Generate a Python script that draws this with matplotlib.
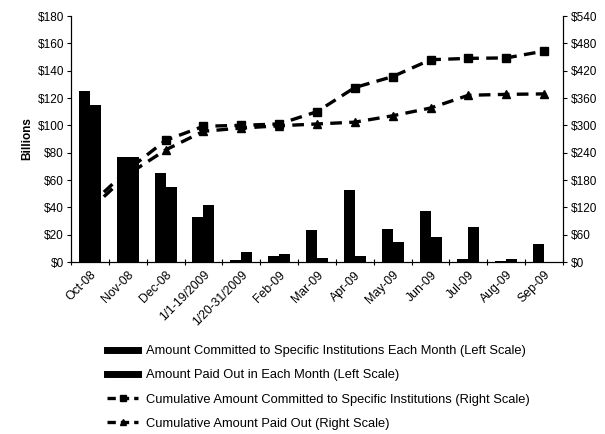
import matplotlib
matplotlib.use("Agg")
import matplotlib.pyplot as plt
from matplotlib.lines import Line2D
import numpy as np

plt.rcParams['font.family'] = ['Liberation Sans', 'DejaVu Sans']

categories = ["Oct-08", "Nov-08", "Dec-08", "1/1-19/2009", "1/20-31/2009", "Feb-09",
              "Mar-09", "Apr-09", "May-09", "Jun-09", "Jul-09", "Aug-09", "Sep-09"]
committed_month = [125, 77, 65, 33, 1.5, 4.5, 23.5, 53, 24.5, 37.5, 2, 0.4, 13.5]
paid_month = [115, 77, 55, 41.5, 7, 5.5, 3, 4.5, 15, 18.5, 25.5, 2, 0]
committed_cum = [125, 202, 267, 298, 300, 303, 330, 383, 407, 444, 447, 448, 463]
paid_cum = [115, 192, 246, 287, 294, 299, 303, 307, 321, 338, 366, 368, 369]

left_ticks = list(range(0, 181, 20))
right_ticks = list(range(0, 541, 60))

fig = plt.figure(figsize=(6.05, 4.34), dpi=100)
ax = fig.add_axes([71/605, 1-262/434, (563-71)/605, (262-16)/434])
ax2 = ax.twinx()

x = np.arange(len(categories))
w = 0.29

# lines behind bars
ax.set_zorder(2)
ax.patch.set_visible(False)
ax2.set_zorder(1)

ax.bar(x - w/2, committed_month, width=w, color='black', zorder=3)
ax.bar(x + w/2, paid_month, width=w, color='black', zorder=3)

ax2.plot(x, committed_cum, color='black', lw=2.4, marker='s', ms=6,
         dashes=(3.5, 2.2))
ax2.plot(x, paid_cum, color='black', lw=2.4, marker='^', ms=6, dashes=(3.5, 2.2))

ax.set_xlim(-0.5, len(categories) - 0.5)
ax.set_ylim(0, 180)
ax2.set_ylim(0, 540)
ax.set_yticks(left_ticks)
ax.set_yticklabels([f"${v}" for v in left_ticks], fontsize=8.5)
ax2.set_yticks(right_ticks)
ax2.set_yticklabels([f"${v}" for v in right_ticks], fontsize=8.5)

ax.set_xticks(x)
ax.set_xticklabels(categories, rotation=45, ha='right', rotation_mode='anchor', fontsize=8.8)
ax.tick_params(axis='x', which='major', length=0, pad=5)
ax.set_xticks(np.arange(-0.5, len(categories), 1), minor=True)
ax.tick_params(axis='x', which='minor', length=4, direction='inout', width=0.8)
ax.tick_params(axis='y', length=3, width=0.8, pad=2)
ax2.tick_params(axis='y', length=3, width=0.8, pad=3)

for a in (ax, ax2):
    a.spines['top'].set_visible(False)
    for s in ('left', 'right', 'bottom'):
        a.spines[s].set_linewidth(0.8)

ax.set_ylabel("Billions", fontsize=8.5, fontweight='bold', labelpad=3)

handles = [
    Line2D([], [], color='black', lw=5),
    Line2D([], [], color='black', lw=5),
    Line2D([], [], color='black', lw=2.4, marker='s', ms=5, dashes=(2.5, 1.5)),
    Line2D([], [], color='black', lw=2.4, marker='^', ms=5, dashes=(2.5, 1.5)),
]
labels = [
    "Amount Committed to Specific Institutions Each Month (Left Scale)",
    "Amount Paid Out in Each Month (Left Scale)",
    "Cumulative Amount Committed to Specific Institutions (Right Scale)",
    "Cumulative Amount Paid Out (Right Scale)",
]
fig.legend(handles, labels, loc='upper left', bbox_to_anchor=(107/605, 1-345/434),
           frameon=False, fontsize=9.3, handlelength=2.4, handletextpad=0.6,
           labelspacing=0.95, borderaxespad=0, borderpad=0)

fig.savefig("out.png", dpi=100, facecolor='white')
